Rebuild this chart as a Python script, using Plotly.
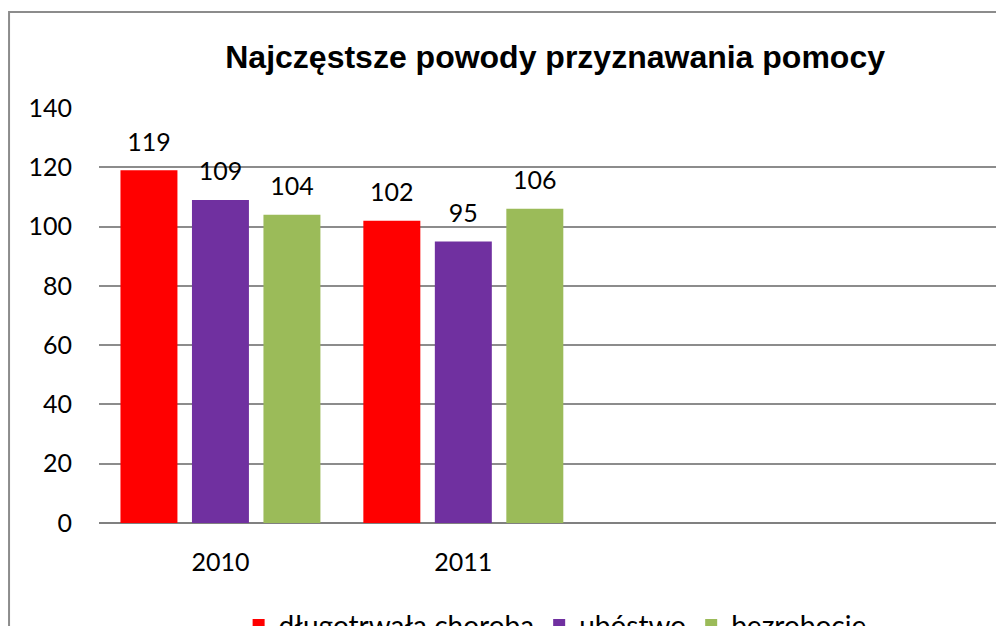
import plotly.graph_objects as go

categories = ["2010", "2011"]
series_names = ["długotrwała choroba", "ubóstwo", "bezrobocie"]
dlugotrwala_choroba = [119, 102]
ubostwo = [109, 95]
bezrobocie = [104, 106]
series_values = [dlugotrwala_choroba, ubostwo, bezrobocie]
colors = ["#FF0000", "#7030A0", "#9BBB59"]
y_ticks = [0, 20, 40, 60, 80, 100, 120, 140]

FONT = "Lato"
BARGAP = 0.117
fig = go.Figure()
for name, vals, col in zip(series_names, series_values, colors):
    fig.add_trace(go.Bar(
        x=categories, y=vals, name=name,
        marker=dict(color=col, line=dict(width=0)),
        hoverinfo="skip",
    ))
# data labels, grouped the same way as the bars
for name, vals in zip(series_names, series_values):
    fig.add_trace(go.Scatter(
        x=categories, y=vals, mode="markers+text", text=vals,
        textposition="top center", showlegend=False, cliponaxis=False,
        marker=dict(size=20, color="rgba(0,0,0,0)"),
        textfont=dict(family=FONT, size=25, color="#000000"),
        hoverinfo="skip",
    ))

W, H = 996, 618
L, T, B, R = 90.5, 100, 103, 0
fig.update_layout(
    width=W, height=H,
    margin=dict(l=L, r=R, t=T, b=B, autoexpand=False, pad=0),
    paper_bgcolor="white", plot_bgcolor="white",
    barmode="group", bargap=BARGAP, bargroupgap=0.203,
    scattermode="group", scattergap=BARGAP,
    title=dict(text="<b>Najczęstsze powody przyznawania pomocy</b>",
               font=dict(family="Liberation Sans", size=32, color="#000000"),
               x=0.504, xref="paper", xanchor="center",
               y=1 - 49 / H, yref="container", yanchor="middle"),
    xaxis=dict(type="category", categoryarray=categories, range=[-0.5, 3.226],
               showgrid=False, showline=False, zeroline=False, ticks="",
               tickfont=dict(family=FONT, size=25, color="#000000"),
               ticklabelstandoff=22),
    yaxis=dict(range=[0, 140], tickvals=y_ticks, showgrid=True,
               gridcolor="#8C8C8C", gridwidth=2, zeroline=True,
               zerolinecolor="#808080", zerolinewidth=2, showline=False,
               ticks="", tickfont=dict(family=FONT, size=25, color="#000000"),
               ticklabelstandoff=26),
    legend=dict(orientation="h", x=0.504, xanchor="center", y=-0.186, yanchor="top",
                font=dict(family=FONT, size=28, color="#000000"),
                bgcolor="rgba(0,0,0,0)", itemwidth=30),
    showlegend=True,
)
fig.add_shape(type="rect", xref="paper", yref="paper",
              x0=(0.5 - L) / (W - L - R), x1=1.2,
              y0=-0.5, y1=(H - B - 4) / (H - T - B),
              line=dict(color="#8C8C8C", width=2), fillcolor="rgba(0,0,0,0)",
              layer="below")
fig.write_html("out.html")
